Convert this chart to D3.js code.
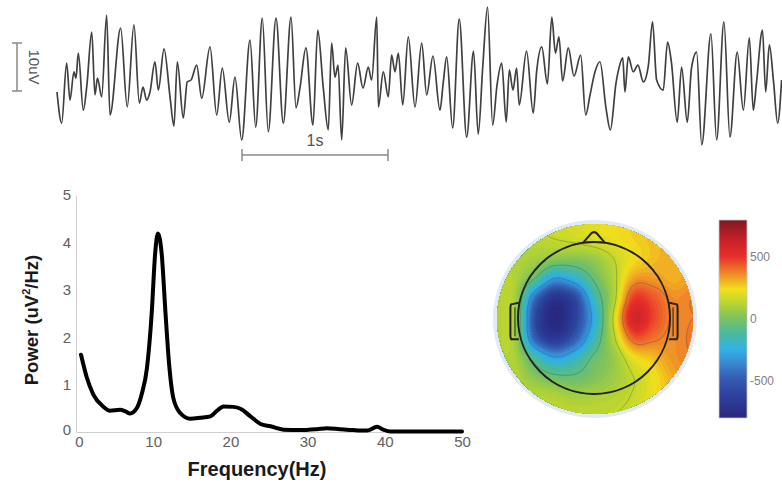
<!DOCTYPE html>
<html><head><meta charset="utf-8">
<script src="https://cdn.jsdelivr.net/npm/d3@7"></script>
<style>
html,body{margin:0;padding:0;background:#fff;}
svg{display:block;font-family:"Liberation Sans",Arial,Helvetica,sans-serif;}
</style></head>
<body>
<svg id="chart" width="782" height="498"></svg>
<script>
// ---------------- DATA ----------------
// EEG trace: time (ms) of successive turning points and amplitude (uV)
const eegTimeMs = [0,32,66,89,116,130,146,180,205,238,260,277,306,340,363,436,481,527,564,589,614,637,671,694,733,774,801,824,865,892,918,957,991,1048,1094,1132,1180,1219,1265,1322,1361,1406,1447,1500,1550,1603,1637,1664,1705,1753,1786,1824,1858,1881,1904,1925,1950,1977,2018,2059,2096,2132,2155,2190,2201,2235,2269,2292,2315,2338,2368,2406,2452,2498,2532,2575,2623,2646,2669,2710,2755,2806,2853,2885,2916,2949,2984,3014,3046,3077,3098,3123,3148,3166,3216,3262,3285,3320,3359,3389,3414,3438,3463,3502,3541,3587,3621,3651,3685,3719,3760,3790,3829,3846,3875,3890,3913,3947,3979,4016,4050,4079,4107,4152,4182,4208,4248,4278,4317,4346,4381,4416,4479,4518,4568,4609,4659,4701,4742,4769,4791,4832,4854,4879,4908,4936,4963];
const eegMicroV = [-2.5,-9.0,3.5,-4.2,1.7,0.4,5.6,-6.3,-1.0,10.0,-3.1,0.4,-3.5,13.5,-7.3,10.8,-5.6,11.5,-4.8,-1.5,-4.2,-2.5,3.8,-2.1,6.5,-3.5,-9.6,3.8,-7.9,-0.4,0,3.1,-3.8,6.9,-7.3,2.5,-8.8,0.6,-12.5,8.3,-9.8,12.9,-10.8,12.9,-9.0,13.1,-5.8,-1.7,6.7,-9.4,10.4,-1.7,-10.4,7.7,0.6,3.1,-12.5,6.7,-5.2,3.5,-1.7,2.7,0,13.1,-5.6,1.7,-3.5,5.2,1.7,5.6,-5.2,9.0,-5.6,7.7,-3.1,5.0,-6.3,-0.4,4.8,-10.0,12.7,-11.9,6.0,-11.3,2.7,15.2,-9.4,-1.0,3.5,-8.8,2.1,-2.1,2.5,-5.2,6.0,-6.9,1.7,6.9,-0.8,13.1,5.6,9.0,-0.2,6.7,0.8,5.2,-7.3,-3.1,1.7,3.8,-5.8,-10.4,-0.6,2.1,4.6,-2.5,4.8,1.7,3.1,-0.4,2.9,12.1,0,-2.1,7.9,3.8,-8.8,2.7,-8.8,2.5,5.8,-13.5,9.6,-12.5,12.1,-11.9,5.8,-6.3,8.8,-6.3,-0.6,10.4,-2.5,7.3,-0.4,-9.0,0];

// Power spectrum
const specFreqHz = [0.65,1.4,2.25,3.5,4.4,5.7,6.35,7,7.9,8.5,9.2,9.8,10.25,10.6,11.1,11.6,12.1,12.6,13.5,14.8,16.1,17.4,18.2,19.1,20.4,21.3,22.6,23.9,25.2,26.9,29,31.2,32.5,34.2,36,37.7,39,39.8,40.7,45,50];
const specPower  = [1.63,1.15,0.79,0.54,0.45,0.47,0.44,0.39,0.51,0.79,1.36,2.49,3.76,4.19,3.76,2.49,1.36,0.72,0.40,0.28,0.30,0.33,0.44,0.54,0.53,0.49,0.33,0.17,0.12,0.05,0.04,0.06,0.08,0.06,0.04,0.03,0.11,0.05,0.01,0.01,0.01];
const specXTicks = [0,10,20,30,40,50];
const specYTicks = [0,1,2,3,4,5];
const specXLabel = "Frequency(Hz)";

// Topographic map: values sampled on an 11 x 11 grid (head units, -1.3..1.3)
const topoGridCoord = [-1.3,-1.04,-0.78,-0.52,-0.26,0,0.26,0.52,0.78,1.04,1.3];
const topoValues = [
  [130,140,150,170,190,210,240,270,300,330,350],
  [120,125,130,150,170,200,225,260,290,320,340],
  [110,115,90,40,25,60,150,240,290,320,340],
  [120,110,-60,-300,-220,-40,120,330,340,310,340],
  [110,90,-420,-700,-580,-170,110,480,440,360,380],
  [110,80,-550,-800,-620,-250,170,580,470,370,380],
  [110,80,-470,-680,-500,-170,130,430,400,360,390],
  [110,100,-120,-290,-200,-40,60,230,290,350,380],
  [120,120,30,-30,-40,10,70,150,230,320,370],
  [130,130,130,110,90,100,120,160,230,300,340],
  [140,140,140,140,140,140,150,180,240,300,340]
];
const colorbarTicks = [-500,0,500];
const colorbarDomain = [-800,800];

// ---------------- DRAW ----------------
const svg = d3.select("#chart");
const font = "'Liberation Sans',Arial,Helvetica,sans-serif";

// ---- EEG trace ----
const ex = d3.scaleLinear().domain([0,5000]).range([57,787]);
const ey = d3.scaleLinear().domain([-10,10]).range([128,32]);
const eeg = eegTimeMs.map((t,i)=>[t,eegMicroV[i]]);
svg.append("path").datum(eeg)
  .attr("d", d3.line().x(d=>ex(d[0])).y(d=>ey(d[1])).curve(d3.curveMonotoneX))
  .attr("fill","none").attr("stroke","#404040").attr("stroke-width",1.7)
  .attr("stroke-linejoin","round");

// amplitude scale bar (10 uV)
const sbLen = ey(0)-ey(10);
const sbTop = 43, sbX = 17;
const sb = svg.append("g").attr("stroke","#8a8a8a").attr("stroke-width",1.5);
sb.append("line").attr("x1",sbX).attr("x2",sbX).attr("y1",sbTop).attr("y2",sbTop+sbLen);
sb.append("line").attr("x1",sbX-5).attr("x2",sbX+5).attr("y1",sbTop).attr("y2",sbTop);
sb.append("line").attr("x1",sbX-5).attr("x2",sbX+5).attr("y1",sbTop+sbLen).attr("y2",sbTop+sbLen);
svg.append("text").attr("transform",`translate(29,${sbTop+sbLen/2}) rotate(90)`)
  .attr("text-anchor","middle").attr("font-size",15).attr("fill","#555").text("10uV");

// time scale bar (1 s)
const tbStart = 1267, tbY = 155;
const tb = svg.append("g").attr("stroke","#8a8a8a").attr("stroke-width",1.5);
tb.append("line").attr("x1",ex(tbStart)).attr("x2",ex(tbStart+1000)).attr("y1",tbY).attr("y2",tbY);
tb.append("line").attr("x1",ex(tbStart)).attr("x2",ex(tbStart)).attr("y1",tbY-6).attr("y2",tbY+6);
tb.append("line").attr("x1",ex(tbStart+1000)).attr("x2",ex(tbStart+1000)).attr("y1",tbY-6).attr("y2",tbY+6);
svg.append("text").attr("x",ex(tbStart+500)).attr("y",146).attr("text-anchor","middle")
  .attr("font-size",16).attr("fill","#555").text("1s");

// ---- Power spectrum ----
const sx = d3.scaleLinear().domain([0,50]).range([76,462]);
const sy = d3.scaleLinear().domain([0,5]).range([432,195]);
const gx = svg.append("g").attr("transform","translate(0,432)")
  .call(d3.axisBottom(sx).tickValues(specXTicks).tickSize(0).tickPadding(4).tickFormat(d=>String(d)));
const gy = svg.append("g").attr("transform","translate(76,0)")
  .call(d3.axisLeft(sy).tickValues(specYTicks).tickSize(0).tickPadding(5).tickFormat(d=>String(d)));
[gx,gy].forEach(g=>{
  g.select(".domain").attr("stroke","#d0d0d0").attr("stroke-width",1);
  g.selectAll("text").attr("font-size",15).attr("fill","#606060").attr("font-family",font);
});
gy.selectAll(".tick text").filter(d=>d===0).attr("dy","0.15em");
gx.selectAll(".tick text").filter(d=>d===0).attr("dx","0.2em");

const spec = specFreqHz.map((f,i)=>[f,specPower[i]]);
svg.append("path").datum(spec)
  .attr("d", d3.line().x(d=>sx(d[0])).y(d=>sy(d[1])).curve(d3.curveMonotoneX))
  .attr("fill","none").attr("stroke","#000").attr("stroke-width",4)
  .attr("stroke-linejoin","round").attr("stroke-linecap","round");

svg.append("text").attr("x",(sx(0)+sx(50))/2 - 12).attr("y",476).attr("text-anchor","middle")
  .attr("font-size",20).attr("font-weight","bold").attr("fill","#1a1a1a").text(specXLabel);
const yt = svg.append("text").attr("transform","translate(38,320) rotate(-90)")
  .attr("text-anchor","middle").attr("font-size",18.5).attr("font-weight","bold").attr("fill","#1a1a1a");
yt.append("tspan").text("Power (uV");
yt.append("tspan").attr("font-size",11).attr("dy",-8).text("2");
yt.append("tspan").attr("dy",8).text("/Hz)");

// ---- Topographic map ----
const stops = [[-800,'#29287f'],[-620,'#2e409e'],[-460,'#3562b4'],[-345,'#3a8cd6'],[-240,'#30b2e6'],[-105,'#4cbb98'],[15,'#80c35a'],[135,'#bcd630'],[240,'#f2e01c'],[380,'#f07f2a'],[500,'#e8302a'],[640,'#c8202a'],[800,'#7e1820']];
const cmap = d3.scaleLinear().domain(stops.map(s=>s[0])).range(stops.map(s=>s[1]))
  .interpolate(d3.interpolateRgb).clamp(true);

const cx = 594, cy = 318, R = 76;
const hx = d3.scaleLinear().domain([-1,1]).range([cx-R,cx+R]);
const hy = d3.scaleLinear().domain([-1,1]).range([cy-R,cy+R]);

// bicubic (Catmull-Rom) resampling of the sampled grid for contouring
const G = topoGridCoord.length, M = 131;
function cr(p0,p1,p2,p3,t){return p1+0.5*t*(p2-p0+t*(2*p0-5*p1+4*p2-p3+t*(3*(p1-p2)+p3-p0)));}
function at(r,c){r=Math.max(0,Math.min(G-1,r));c=Math.max(0,Math.min(G-1,c));return topoValues[r][c];}
function sample(gr,gc){
  const r=Math.floor(gr), c=Math.floor(gc), tr=gr-r, tc=gc-c;
  const rows=[];
  for(let k=-1;k<=2;k++){rows.push(cr(at(r+k,c-1),at(r+k,c),at(r+k,c+1),at(r+k,c+2),tc));}
  return cr(rows[0],rows[1],rows[2],rows[3],tr);
}
const fine = new Array(M*M);
for(let j=0;j<M;j++)for(let i=0;i<M;i++){
  fine[j*M+i]=sample(j*(G-1)/(M-1), i*(G-1)/(M-1));
}
const u0 = topoGridCoord[0], u1 = topoGridCoord[G-1];
const gridToU = c => u0 + (c-0.5)*(u1-u0)/(M-1);
const proj = d3.geoTransform({point:function(x,y){this.stream.point(hx(gridToU(x)),hy(gridToU(y)));}});
const gpath = d3.geoPath(proj);

const defs = svg.append("defs");
const rx = 98, ry = 95, ecx = 595, ecy = 319;
defs.append("clipPath").attr("id","disk").append("ellipse")
  .attr("cx",ecx).attr("cy",ecy).attr("rx",rx).attr("ry",ry);

svg.append("ellipse").attr("cx",ecx).attr("cy",ecy).attr("rx",rx+2).attr("ry",ry+2)
  .attr("fill","none").attr("stroke","#e1e9f3").attr("stroke-width",4);

const step = 20;
const thr = d3.range(-1000, 1000, step);
const fills = d3.contours().size([M,M]).thresholds(thr)(fine);
const topo = svg.append("g").attr("clip-path","url(#disk)");
topo.selectAll("path.f").data(fills).join("path").attr("class","f")
  .attr("d",gpath).attr("fill",d=>cmap(d.value+step/2)).attr("stroke",d=>cmap(d.value+step/2)).attr("stroke-width",0.4);
const lines = d3.contours().size([M,M]).thresholds([-580,-300,-60,150,380])(fine);
topo.selectAll("path.l").data(lines).join("path").attr("class","l")
  .attr("d",gpath).attr("fill","none").attr("stroke","rgba(30,80,80,0.35)").attr("stroke-width",0.9);

// head outline
const head = svg.append("g").attr("fill","none").attr("stroke","#222").attr("stroke-width",2);
head.append("circle").attr("cx",cx).attr("cy",cy).attr("r",R);
const nb = 11/R;
head.append("path").attr("d",`M${hx(-nb)},${hy(-Math.sqrt(1-nb*nb))} L${hx(-0.03)},${hy(-1.12)} Q${hx(0)},${hy(-1.14)} ${hx(0.03)},${hy(-1.12)} L${hx(nb)},${hy(-Math.sqrt(1-nb*nb))}`);
[-1,1].forEach(s=>{
  const xa = hx(s*0.99), xb = hx(s*1.09);
  head.append("path").attr("d",`M${xa},${hy(-0.2)} L${xb},${hy(-0.18)} Q${hx(s*1.1)},${hy(-0.17)} ${hx(s*1.1)},${hy(-0.12)} L${hx(s*1.1)},${hy(0.22)} Q${hx(s*1.1)},${hy(0.27)} ${xb},${hy(0.28)} L${xa},${hy(0.28)}`);
  head.append("path").attr("stroke-width",1).attr("d",`M${hx(s*1.04)},${hy(-0.14)} L${hx(s*1.04)},${hy(0.24)}`);
});

// colorbar
const cbX = 719, cbW = 28;
const cby = d3.scaleLinear().domain(colorbarDomain).range([418,220]);
const grad = defs.append("linearGradient").attr("id","cbg").attr("x1",0).attr("x2",0).attr("y1",1).attr("y2",0);
grad.selectAll("stop").data(stops).join("stop")
  .attr("offset",d=>(d[0]-colorbarDomain[0])/(colorbarDomain[1]-colorbarDomain[0]))
  .attr("stop-color",d=>d[1]);
svg.append("rect").attr("x",cbX).attr("y",cby(colorbarDomain[1])).attr("width",cbW)
  .attr("height",cby(colorbarDomain[0])-cby(colorbarDomain[1])).attr("fill","url(#cbg)")
  .attr("stroke","#c8c8c8").attr("stroke-width",0.8);
const cbAxis = svg.append("g").attr("transform",`translate(${cbX+cbW},0)`)
  .call(d3.axisRight(cby).tickValues(colorbarTicks).tickSize(0).tickPadding(3).tickFormat(d=>String(d)));
cbAxis.select(".domain").remove();
cbAxis.selectAll("text").attr("font-size",12).attr("fill","#808080").attr("font-family",font);
</script>
</body></html>
